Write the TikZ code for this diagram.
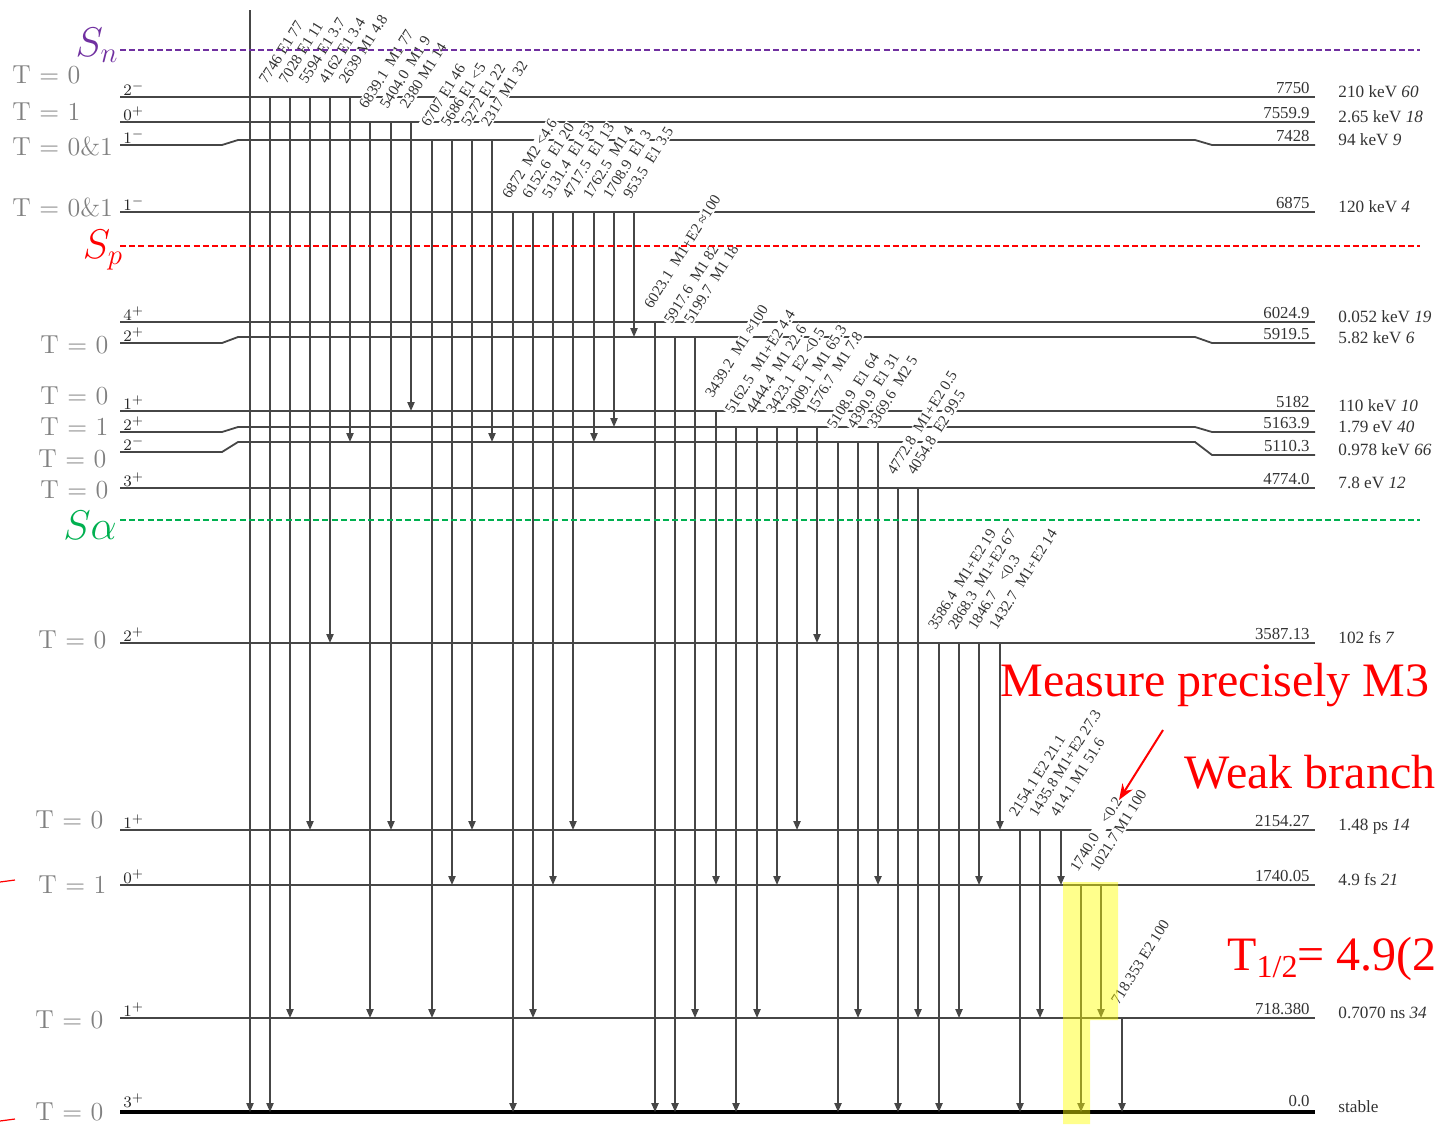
\documentclass[tikz,border=0pt]{standalone}
\usepackage{fontspec}
\newfontfamily\timesfont{Liberation Serif}
\usetikzlibrary{arrows.meta}
\definecolor{snpurple}{RGB}{112, 48, 160}
\definecolor{spred}{RGB}{255, 0, 0}
\definecolor{sagreen}{RGB}{0, 176, 80}
\definecolor{levelgray}{RGB}{70, 70, 70}
\definecolor{tgray}{RGB}{128, 128, 128}
\definecolor{hlyellow}{RGB}{255, 255, 0}

\begin{document}
\begin{tikzpicture}[x=0.5pt, y=-0.5pt,
  lvl/.style={draw=levelgray, line width=0.9pt},
  gam/.style={draw=levelgray, line width=0.8pt, -{Triangle[length=4.5pt, width=3.6pt]}},
  glab/.style={rotate=58, anchor=base west, fill=white, inner sep=0.5pt, text=black!80,
    font=\timesfont\fontsize{7.6}{8}\selectfont},
  spin/.style={anchor=south west, inner sep=0.5pt, text=black!85, font=\fontsize{8}{9}\selectfont},
  elab/.style={anchor=base east, inner sep=0pt, yshift=2pt, text=black!80,
    font=\timesfont\fontsize{8.4}{9}\selectfont},
  hlab/.style={anchor=base west, inner sep=0pt, text=black!80, font=\timesfont\fontsize{8.6}{9}\selectfont},
  tlab/.style={anchor=west, inner sep=0pt, text=tgray, font=\fontsize{13}{15}\selectfont},
  sep/.style={line width=0.6pt, dash pattern=on 3pt off 1.6pt},
  redtxt/.style={text=spred, inner sep=0pt, font=\timesfont\fontsize{24}{26}\selectfont}]
  \useasboundingbox (0,0) rectangle (1438,1124);

  % levels
  \foreach \yl/\ym/\yr/\jp/\en/\hl [count=\i] in {
    97/97/97/2^{-}/7750/210 keV \textit{60},
    122/122/122/0^{+}/7559.9/2.65 keV \textit{18},
    145/140/145/1^{-}/7428/94 keV \textit{9},
    212/212/212/1^{-}/6875/120 keV \textit{4},
    322/322/322/4^{+}/6024.9/0.052 keV \textit{19},
    343/337/343/2^{+}/5919.5/5.82 keV \textit{6},
    411/411/411/1^{+}/5182/110 keV \textit{10},
    432/427/432/2^{+}/5163.9/1.79 eV \textit{40},
    452/442/455/2^{-}/5110.3/0.978 keV \textit{66},
    488/488/488/3^{+}/4774.0/7.8 eV \textit{12},
    643/643/643/2^{+}/3587.13/102 fs \textit{7},
    830/830/830/1^{+}/2154.27/1.48 ps \textit{14},
    885/885/885/0^{+}/1740.05/4.9 fs \textit{21},
    1018/1018/1018/1^{+}/718.380/0.7070 ns \textit{34}}{
    \draw[lvl] (120,\yl) -- (222,\yl) -- (238,\ym) -- (1195,\ym) -- (1212,\yr) -- (1315,\yr);
    \node[spin] (jp\i) at (122,\yl) {$\jp$};
    \node[elab] (en\i) at (1310,\yr) {\en};
    \node[hlab] (hl\i) at (1338,\yr) {\hl};
  }
  % ground state
  \draw[black, line width=2.2pt] (120,1112) -- (1315,1112);
  \node[spin] (jp0) at (122,1109) {$3^{+}$};
  \node[elab] (en0) at (1310,1110) {0.0};
  \node[hlab] (hl0) at (1338,1112) {stable};

  % gamma transitions
  \coordinate (topa) at (250,10);
  \coordinate (topb) at (250,1112);
  \draw[gam] (topa) -- (topb);
  \foreach \x/\ya/\yb/\txt [count=\i] in {
    270/97/1112/7746 E1 77, 290/97/1018/7028 E1 11, 310/97/830/5594 E1 3.7,
    330/97/643/4162 E1 3.4, 350/97/442/2639 M1 4.8,
    370/122/1018/6839.1~ M1 77, 391/122/830/5404.0~ M1 9, 411/122/411/2380 M1 14,
    432/140/1018/6707 E1 46, 452/140/885/5686 E1 <5, 472/140/830/5272 E1 22,
    492/140/442/2317 M1 32,
    513/212/1112/6872~ M2 <4.6, 533/212/1018/6152.6~ E1 20, 553/212/885/5131.4~ E1 53,
    573/212/830/4717.5~ E1 13, 594/212/442/1762.5~ M1 4, 614/212/427/1708.9~ E1 3,
    634/212/337/953.5~ E1 3.5,
    655/322/1112/6023.1~ M1+E2 ≈100,
    675/337/1112/5917.6~ M1 82, 695/337/1018/5199.7~ M1 18,
    716/411/885/3439.2~ M1 ≈100,
    736/427/1112/5162.5~ M1+E2 4.4, 757/427/1018/4444.4~ M1 22.6,
    777/427/885/3423.1~ E2 <0.5, 797/427/830/3009.1~ M1 65.3, 817/427/643/1576.7~ M1 7.8,
    838/442/1112/5108.9~ E1 64, 858/442/1018/4390.9~ E1 31, 878/442/885/3369.6~ M2 5,
    898/488/1112/4772.8~ M1+E2 0.5, 918/488/1018/4054.8~ E2 99.5,
    939/643/1112/3586.4~ M1+E2 19, 959/643/1018/2868.3~ M1+E2 67,
    979/643/885/1846.7~~~ <0.3, 1000/643/830/1432.7~ M1+E2 14,
    1020/830/1112/2154.1 E2 21.1, 1040/830/1018/1435.8 M1+E2 27.3, 1061/830/885/414.1 M1 51.6,
    1081/885/1112/1740.0~~~ <0.2, 1101/885/1018/1021.7 M1 100,
    1122/1018/1112/718.353 E2 100}{
    \coordinate (ta\i) at (\x,\ya);
    \coordinate (tb\i) at (\x,\yb);
    \node[glab] (gl\i) at ([shift={(-4,-11)}]ta\i) {\txt};
    \draw[gam] (ta\i) -- (tb\i);
  }

  % separation energies
  \draw[sep, snpurple] (120,50) -- (1420,50);
  \draw[sep, spred] (120,246) -- (1420,246);
  \draw[sep, sagreen] (120,520) -- (1420,520);
  \node[text=snpurple, font=\fontsize{20.74}{24}\selectfont] (sn) at (97,45) {$S_n$};
  \node[text=spred, font=\fontsize{20.74}{24}\selectfont] (sp) at (103,250) {$S_p$};
  \node[text=sagreen, font=\fontsize{20.74}{24}\selectfont] (sa) at (90,525) {$S\alpha$};

  % isospin
  \foreach \xx/\yy/\tv [count=\i] in {12/75/0, 12/112/1, 12/146/0\&1, 12/207/0\&1,
    40/345/0, 40/396/0, 40/427/1, 38/459/0, 40/490/0, 38/640/0,
    35/820/0, 38/885/1, 35/1020/0, 35/1112/0}{
    \node[tlab] (T\i) at (\xx,\yy) {T = \tv};
  }

  % highlight
  \fill[hlyellow, opacity=0.45] (1063,882) -- (1118,882) -- (1118,1020) -- (1090,1020)
    -- (1090,1124) -- (1063,1124) -- cycle;

  % annotations
  \node[redtxt] (m3note) at (1215,685) {Measure precisely M3};
  \node[redtxt] (weaknote) at (1310,772) {Weak branch};
  \node[redtxt, anchor=base west] (halfnote) at (1227,970)
    {T\raisebox{-0.35ex}{\fontsize{16}{16}\selectfont 1/2}= 4.9(2};
  \coordinate (arra) at (1163,730);
  \coordinate (arrb) at (1119,800);
  \draw[spred, line width=1pt, -{Stealth[length=8pt, width=6pt]}] (arra) -- (arrb);
  \draw[spred, line width=0.6pt] (0,882) -- (15,880);
  \draw[spred, line width=0.6pt] (0,1121) -- (15,1119);
\end{tikzpicture}
\end{document}
